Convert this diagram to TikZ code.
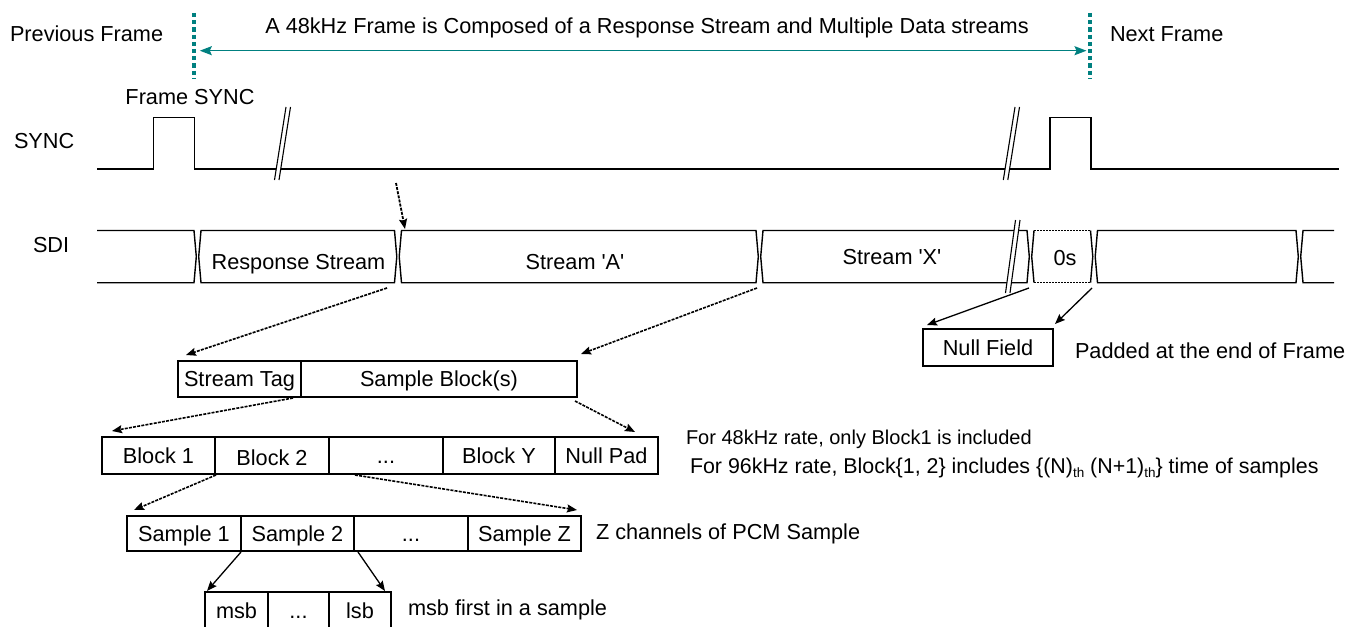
\documentclass[tikz,border=0pt]{standalone}
\usepackage{fontspec}
\setmainfont{Liberation Sans}
\usetikzlibrary{arrows.meta}
\definecolor{frameteal}{RGB}{0,128,128}
\newcommand{\fsmain}{\fontsize{21.7}{26}\selectfont}
\newcommand{\fsnote}{\fontsize{20}{24}\selectfont}
\newcommand{\fsnotewide}{\fontsize{21.4}{25}\selectfont}
\newcommand{\thsub}{\raisebox{-4pt}{\fontsize{13.5}{13.5}\selectfont th}}
\newcommand{\sdiseg}[2]{\draw[wave] ({#1+1.2},256.6) -- ({#1+3.5},230.5) -- ({#2-3.5},230.5) -- ({#2-1.2},256.6) -- ({#2-3.5},282.7) -- ({#1+3.5},282.7) -- cycle;}
\newcommand{\brkmark}[4]{\fill[white] (#1,#2) -- ({#1+4.5},#2) -- ({#3+4.5},#4) -- (#3,#4) -- cycle;
  \draw[line width=1.1pt] (#1,#2) -- (#3,#4) ({#1+4.5},#2) -- ({#3+4.5},#4);}
\begin{document}
\begin{tikzpicture}[x=1pt,y=-1pt,
  txt/.style={font=\fsmain, inner sep=0pt, outer sep=0pt, text height=15.5pt, text depth=0pt},
  note/.style={font=\fsnote, inner sep=0pt, outer sep=0pt, text height=14.3pt, text depth=0pt, anchor=west},
  box/.style={draw, line width=1.6pt, inner sep=0pt, outer sep=0pt, font=\fsmain, text height=15.5pt, text depth=0pt},
  wave/.style={line width=1.4pt, line join=miter},
  tipx/.style={-{Stealth[length=10pt,width=8pt,inset=1.5pt]}},
  dconn/.style={tipx, line width=1.6pt, dash pattern=on 3pt off 1.2pt},
  sconn/.style={tipx, line width=1.3pt},
  framemark/.style={frameteal, line width=4pt, dash pattern=on 4.2pt off 3pt}]
\useasboundingbox (0,0) rectangle (1348,626);
\fill[white] (0,0) rectangle (1348,626);
\clip (0,0) rectangle (1348,626);

% ---- frame markers and title
\draw[framemark] (194.3,13) -- (194.3,78);
\draw[framemark] (1090.3,13) -- (1090.3,78);
\coordinate (fl) at (194.3,50.7);
\coordinate (fr) at (1090.3,50.7);
\draw[frameteal, line width=1.5pt, {Stealth[length=12pt,width=9pt,inset=2pt]}-{Stealth[length=12pt,width=9pt,inset=2pt]}, shorten <=5.5pt, shorten >=3.8pt] (fl) -- (fr);
\node[txt] (title) at (647,26) {A 48kHz Frame is Composed of a Response Stream and Multiple Data streams};
\node[txt, anchor=west] (prev) at (10,34) {Previous Frame};
\node[txt, anchor=west] (next) at (1110,34) {Next Frame};

% ---- SYNC
\node[txt] (fsync) at (190,97) {Frame SYNC};
\node[txt, anchor=west] (synclbl) at (14,141) {SYNC};
\draw[wave] (97,169) -- (153.3,169) -- (153.3,117.3) -- (194.3,117.3) -- (194.3,169) -- (1050,169) -- (1050,117.3) -- (1091,117.3) -- (1091,169) -- (1339,169);
\brkmark{286}{107}{274.5}{180}
\brkmark{1015}{107}{1003.3}{180}

% ---- SDI
\node[txt, anchor=west] (sdilbl) at (33,245) {SDI};
\draw[wave] (97,230.5) -- (194,230.5) -- (196.3,256.6) -- (194,282.7) -- (97,282.7);
\sdiseg{197.5}{398}
\sdiseg{398}{759.5}
\sdiseg{759.5}{1030.5}
\draw[wave] (1034,230.5) -- (1031.7,256.6) -- (1034,282.7);
\draw[wave] (1090.5,230.5) -- (1092.8,256.6) -- (1090.5,282.7);
\draw[line width=1.4pt, dash pattern=on 2pt off 1pt] (1034,230.5) -- (1090.5,230.5) (1034,282.7) -- (1090.5,282.7);
\sdiseg{1094}{1299.5}
\draw[wave] (1334,230.5) -- (1303,230.5) -- (1300.7,256.6) -- (1303,282.7) -- (1334,282.7);
\brkmark{1015.5}{220}{1005.5}{293}
\node[txt] (rs) at (298.5,262) {Response Stream};
\node[txt] (sa) at (575,262) {Stream \textquotesingle A\textquotesingle};
\node[txt] (sx) at (892,257) {Stream \textquotesingle X\textquotesingle};
\node[txt] (zeros) at (1065,258) {0s};

\coordinate (syncpt) at (396,183);
\coordinate (tA) at (405,229);
\coordinate (rsEnd) at (387,288);
\coordinate (aEnd) at (757,288);
\coordinate (nfL) at (1029,288);
\coordinate (nfR) at (1092,288);

% ---- boxes
\node[box, minimum width=123, minimum height=36] (tag) at (239.5,379) {Stream Tag};
\node[box, minimum width=276, minimum height=36, anchor=west] (sblk) at (301,379) {Sample Block(s)};

\node[box, minimum width=113, minimum height=37] (b1) at (158.5,455.5) {Block 1};
\node[box, minimum width=114, minimum height=37] (b2) at (272,455.5) {\raisebox{-2pt}{Block 2}};
\node[box, minimum width=114, minimum height=37] (b3) at (386,455.5) {...};
\node[box, minimum width=112, minimum height=37] (by) at (499,455.5) {Block Y};
\node[box, minimum width=103, minimum height=37] (np) at (606.5,455.5) {Null Pad};

\node[box, minimum width=114, minimum height=35] (s1) at (184,533.5) {Sample 1};
\node[box, minimum width=113, minimum height=35] (s2) at (297.5,533.5) {Sample 2};
\node[box, minimum width=114, minimum height=35] (s3) at (411,533.5) {...};
\node[box, minimum width=113, minimum height=35] (sz) at (524.5,533.5) {Sample Z};

\node[box, minimum width=63, minimum height=38] (msb) at (236.5,611) {msb};
\node[box, minimum width=61, minimum height=38] (mid) at (298.5,611) {...};
\node[box, minimum width=62, minimum height=38] (lsb) at (360,611) {lsb};

\node[box, minimum width=130, minimum height=37] (nf) at (988,347.5) {Null Field};

% ---- notes
\node[txt, anchor=west] (padnote) at (1075,351) {Padded at the end of Frame};
\node[note] (n48) at (686,437) {For 48kHz rate, only Block1 is included};
\node[note, font=\fsnotewide, text height=15.3pt] (n96) at (690,466) {For 96kHz rate, Block\{1, 2\} includes \{(N)\thsub\ (N+1)\thsub\} time of samples};
\node[txt, anchor=west] (znote) at (596,532) {Z channels of PCM Sample};
\node[txt, anchor=west] (mnote) at (408,608) {msb first in a sample};

% ---- connectors
\draw[dconn, line width=1.8pt] (syncpt) -- (tA);
\draw[dconn] (rsEnd) -- ([shift={(8,-6)}]tag.north west);
\draw[dconn] (aEnd) -- ([shift={(4,-7)}]sblk.north east);
\draw[dconn] ([shift={(-8,1)}]tag.south east) -- ([shift={(10,-6)}]b1.north west);
\draw[dconn] ([shift={(-2,4)}]sblk.south east) -- ([shift={(-23,-5)}]np.north east);
\draw[dconn] ([shift={(1,1)}]b1.south east) -- ([shift={(7,-6)}]s1.north west);
\draw[dconn] ([shift={(26,1)}]b3.south west) -- ([shift={(-4,-6)}]sz.north east);
\draw[sconn] ([shift={(0,1)}]s1.south east) -- ([shift={(2,-1)}]msb.north west);
\draw[sconn] ([shift={(4,1)}]s3.south west) -- ([shift={(-6,-1)}]lsb.north east);
\draw[sconn] (nfL) -- ([shift={(4,-4)}]nf.north west);
\draw[sconn] (nfR) -- ([shift={(2,-5)}]nf.north east);
\end{tikzpicture}
\end{document}
